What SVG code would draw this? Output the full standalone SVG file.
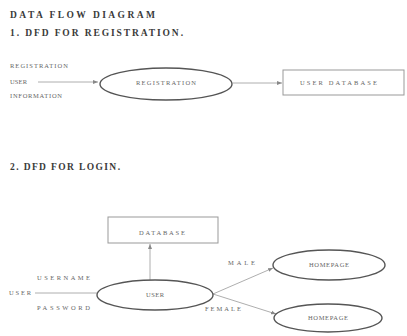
<svg xmlns="http://www.w3.org/2000/svg" width="407" height="336" viewBox="0 0 407 336">
<style>
.h{font-family:"Liberation Serif",serif;font-weight:bold;font-size:9.5px;fill:#3a3a3a}
.t{font-family:"Liberation Serif",serif;font-size:6.5px;fill:#666}
.e{fill:#fff;stroke:#555;stroke-width:1.4}
.b{fill:#fff;stroke:#999;stroke-width:1}
.c{stroke:#999;stroke-width:0.8;fill:none}
</style>
<defs>
<marker id="a" markerWidth="6" markerHeight="6" refX="5" refY="3" orient="auto" markerUnits="userSpaceOnUse">
<path d="M0,1 L5,3 L0,5 z" fill="#888"/>
</marker>
</defs>
<rect width="407" height="336" fill="#fff"/>
<text class="h" x="10" y="18" textLength="145" lengthAdjust="spacing">DATA FLOW DIAGRAM</text>
<text class="h" x="10" y="36" textLength="173" lengthAdjust="spacing">1. DFD FOR REGISTRATION.</text>
<text class="h" x="10" y="170" textLength="110" lengthAdjust="spacing">2. DFD FOR LOGIN.</text>
<g id="connectors">
<line class="c" x1="38" y1="82" x2="98" y2="82" marker-end="url(#a)"/>
<line class="c" x1="233" y1="83" x2="282" y2="83" marker-end="url(#a)"/>
<line class="c" x1="35" y1="293" x2="97" y2="293"/>
<line class="c" x1="150" y1="280" x2="150" y2="244" marker-end="url(#a)"/>
<line class="c" x1="213" y1="294" x2="273" y2="268" marker-end="url(#a)"/>
<line class="c" x1="213" y1="294" x2="276" y2="314" marker-end="url(#a)"/>
<text class="t" x="10" y="68" textLength="58" lengthAdjust="spacing">REGISTRATION</text>
<text class="t" x="10" y="84" textLength="17" lengthAdjust="spacing">USER</text>
<text class="t" x="10" y="98" textLength="52" lengthAdjust="spacing">INFORMATION</text>
<text class="t" x="37" y="280" textLength="53" lengthAdjust="spacing">USERNAME</text>
<text class="t" x="9" y="295" textLength="22" lengthAdjust="spacing">USER</text>
<text class="t" x="37" y="310" textLength="53" lengthAdjust="spacing">PASSWORD</text>
<text class="t" x="228" y="265" textLength="27" lengthAdjust="spacing">MALE</text>
<text class="t" x="205" y="311" textLength="36" lengthAdjust="spacing">FEMALE</text>
</g>
<g id="registration">
<ellipse class="e" cx="166" cy="84" rx="66" ry="16"/>
<text class="t" x="166" y="85" text-anchor="middle" textLength="60" lengthAdjust="spacing">REGISTRATION</text>
</g>
<g id="userdatabase">
<rect class="b" x="283" y="70" width="121" height="25"/>
<text class="t" x="300" y="85" textLength="77" lengthAdjust="spacing">USER DATABASE</text>
</g>
<g id="database">
<rect class="b" x="108" y="217" width="110" height="26"/>
<text class="t" x="162" y="235" text-anchor="middle" textLength="46" lengthAdjust="spacing">DATABASE</text>
</g>
<g id="user">
<ellipse class="e" cx="155" cy="295" rx="58" ry="15"/>
<text class="t" x="155" y="297" text-anchor="middle" textLength="18" lengthAdjust="spacing">USER</text>
</g>
<g id="homepage1">
<ellipse class="e" cx="329" cy="265" rx="56" ry="15"/>
<text class="t" x="329" y="267" text-anchor="middle" textLength="40" lengthAdjust="spacing">HOMEPAGE</text>
</g>
<g id="homepage2">
<ellipse class="e" cx="328" cy="318" rx="54" ry="14"/>
<text class="t" x="328" y="320" text-anchor="middle" textLength="40" lengthAdjust="spacing">HOMEPAGE</text>
</g>
</svg>
